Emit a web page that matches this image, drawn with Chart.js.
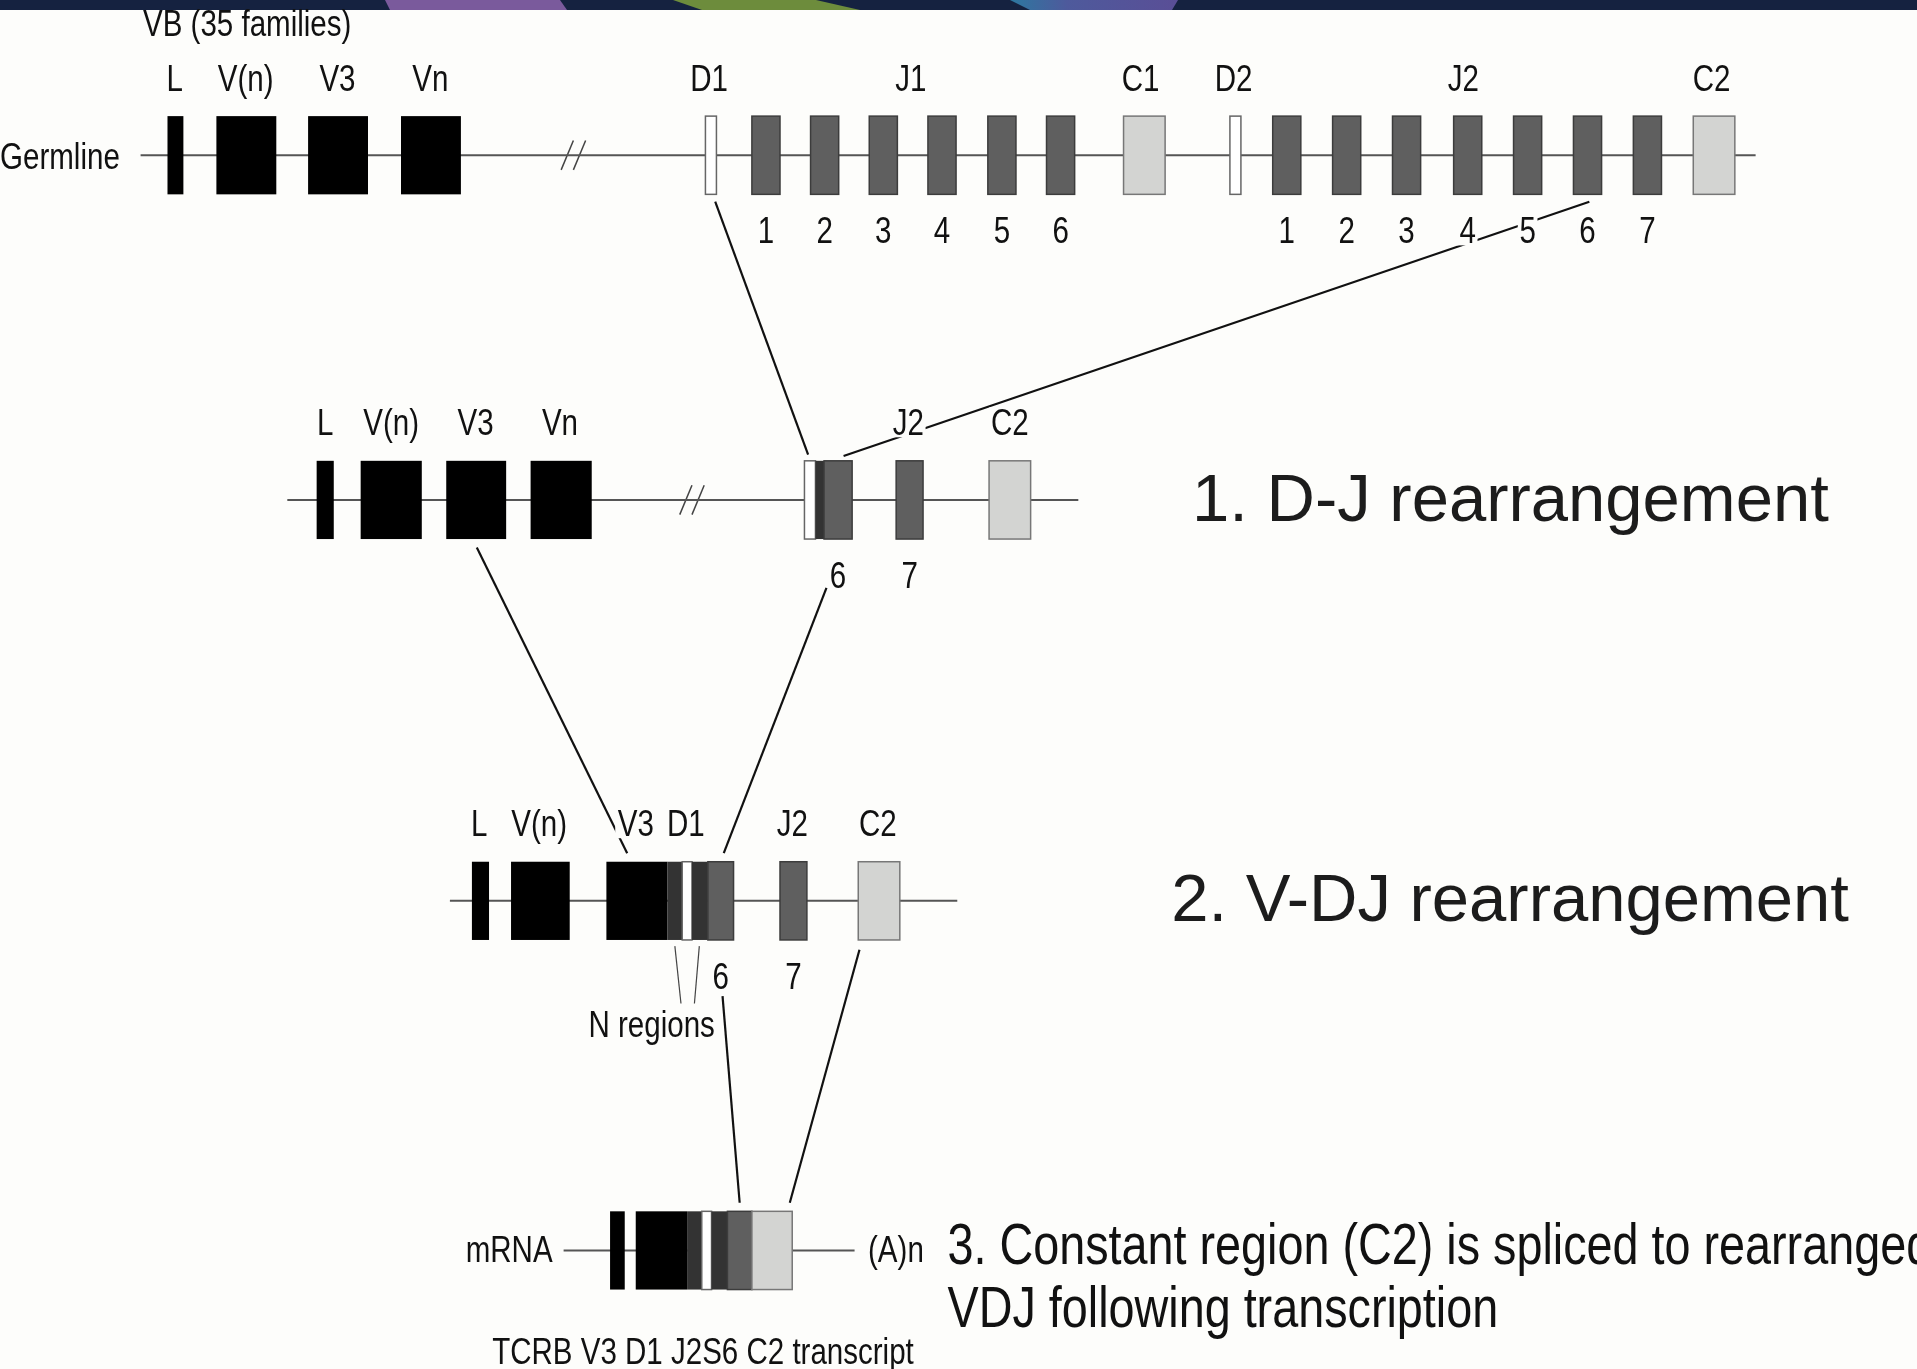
<!DOCTYPE html>
<html>
<head>
<meta charset="utf-8">
<script src="https://cdn.jsdelivr.net/npm/chart.js@4.4.1/dist/chart.umd.min.js"></script>
<style>
  html, body { margin: 0; padding: 0; background: #fdfdfb; }
  #wrap { width: 1917px; height: 1369px; position: relative; }
</style>
</head>
<body>
<div id="wrap"><canvas id="diagram"></canvas></div>
<script>
// ROWS (diagram units, y grows downwards)
const rowY = [127, 409, 737, 1023];
const rowStart = [115, 235, 368, 461];
const rowEnd = [1436, 882, 783, 699];
const rowBreakX = [469, 566, null, null];

// SEGMENTS: [start, end, kind]   V = variable/leader, N = N region, D, J, C
const germlineSegs = [
  [137, 150, "V"], [177, 226, "V"], [252, 301, "V"], [328, 377, "V"],
  [577, 586, "D"],
  [615, 638, "J"], [663, 686, "J"], [711, 734, "J"], [759, 782, "J"], [808, 831, "J"], [856, 879, "J"],
  [919, 953, "C"],
  [1006, 1015, "D"],
  [1041, 1064, "J"], [1090, 1113, "J"], [1139, 1162, "J"], [1189, 1212, "J"],
  [1238, 1261, "J"], [1287, 1310, "J"], [1336, 1359, "J"],
  [1385, 1419, "C"]
];
const djSegs = [
  [259, 273, "V"], [295, 345, "V"], [365, 414, "V"], [434, 484, "V"],
  [658, 667, "D"], [667, 674, "N"], [674, 697, "J"],
  [733, 755, "J"], [809, 843, "C"]
];
const vdjSegs = [
  [386, 400, "V"], [418, 466, "V"],
  [496, 546, "V"], [546, 558, "N"], [558, 566, "D"], [566, 579, "N"], [579, 600, "J"],
  [638, 660, "J"], [702, 736, "C"]
];
const mrnaSegs = [
  [499, 511, "V"], [520, 562, "V"], [562, 574, "N"], [574, 582, "D"],
  [582, 595, "N"], [595, 615, "J"], [615, 648, "C"]
];

// GENE NAMES above each row: [text, x]
const germlineNames = [["L", 143], ["V(n)", 201], ["V3", 276], ["Vn", 352], ["D1", 580],
  ["J1", 745], ["C1", 933], ["D2", 1009], ["J2", 1197], ["C2", 1400]];
const djNames = [["L", 266], ["V(n)", 320], ["V3", 389], ["Vn", 458], ["J2", 743], ["C2", 826]];
const vdjNames = [["L", 392], ["V(n)", 441], ["V3", 520], ["D1", 561], ["J2", 648], ["C2", 718]];
const mrnaNames = [];

// J segment numbers (in order of the J boxes of each row)
const germlineJNumbers = ["1", "2", "3", "4", "5", "6", "1", "2", "3", "4", "5", "6", "7"];
const djJNumbers = ["6", "7"];
const vdjJNumbers = ["6", "7"];
const mrnaJNumbers = [];

// REARRANGEMENT LINKS: [x1, y1, x2, y2]
const links = [
  [585, 165, 661, 372],
  [1300, 165, 690, 373],
  [390, 448, 513, 698],
  [676, 481, 592, 698],
  [591, 815, 605, 984],
  [703, 777, 646, 984]
];
const nRegionPointers = [
  [552, 774, 557, 821],
  [572, 774, 568, 821]
];

// FREE TEXT: [text, x, y, align]
const sideTexts = [
  ["VB (35 families)", 117, 21, "left"],
  ["Germline", 98, 130, "right"],
  ["mRNA", 452, 1024, "right"],
  ["(A)n", 710, 1024, "left"],
  ["N regions", 533, 840, "center"],
  ["TCRB V3 D1 J2S6 C2 transcript", 575, 1108, "center"]
];
const stepTitles = [
  ["1. D-J rearrangement", 975, 411],
  ["2. V-DJ rearrangement", 958, 738]
];
const stepNotes = [
  ["3. Constant region (C2) is spliced to rearranged", 775, 1021],
  ["VDJ following transcription", 775, 1073]
];

// STYLE
const BG = "#fdfdfb";
const BOX_HALF = 32;
const SANS = "'Liberation Sans', Arial, sans-serif";
const LABEL_FONT = { font: "36px " + SANS, hScale: 0.82 };
const NOTE_FONT = { font: "57px " + SANS, hScale: 0.82 };
const TITLE_FONT = { font: "67px " + SANS, hScale: 1 };
const kindFill = { V: "#000000", N: "#333333", D: "#ffffff", J: "#5f5f5f", C: "#d3d4d2" };
const kindStroke = { V: null, N: null, D: "#666666", J: "#3c3c3c", C: "#777777" };

const segRows = [germlineSegs, djSegs, vdjSegs, mrnaSegs];
const nameRows = [germlineNames, djNames, vdjNames, mrnaNames];
const numberRows = [germlineJNumbers, djJNumbers, vdjJNumbers, mrnaJNumbers];

// DATASETS
function seg(x1, y1, x2, y2) {
  return [{ x: x1, y: y1 }, { x: x2, y: y2 }];
}
const datasets = [];
rowY.forEach((yc, r) => {
  datasets.push({ data: seg(rowStart[r], yc, rowEnd[r], yc), borderColor: "#555555", borderWidth: 2 });
  if (rowBreakX[r] !== null) {
    const bx = rowBreakX[r];
    [-5, 5].forEach(off => {
      datasets.push({ data: seg(bx + off - 5, yc + 12, bx + off + 5, yc - 12), borderColor: "#444444", borderWidth: 1.5 });
    });
  }
});
links.forEach(l => datasets.push({ data: seg(...l), borderColor: "#111111", borderWidth: 2.2 }));
nRegionPointers.forEach(l => datasets.push({ data: seg(...l), borderColor: "#444444", borderWidth: 1.2 }));
datasets.forEach(d => { d.showLine = true; d.pointRadius = 0; d.fill = false; });

// TEXT HELPER (hScale squeezes the face to the narrow look of the original)
function drawText(ctx, text, px, py, align, style, color, mask) {
  ctx.save();
  ctx.font = style.font;
  ctx.textAlign = align;
  ctx.textBaseline = "middle";
  ctx.translate(px, py);
  ctx.scale(style.hScale, 1);
  if (mask) {
    const m = ctx.measureText(text);
    const w = m.actualBoundingBoxLeft + m.actualBoundingBoxRight;
    ctx.fillStyle = BG;
    ctx.fillRect(-m.actualBoundingBoxLeft - 3, -m.actualBoundingBoxAscent - 2,
      w + 6, m.actualBoundingBoxAscent + m.actualBoundingBoxDescent + 4);
  }
  ctx.fillStyle = color;
  ctx.fillText(text, 0, 0);
  ctx.restore();
}

const diagramPlugin = {
  id: "diagram",
  beforeDraw(chart) {
    const { ctx, width } = chart;
    ctx.save();
    ctx.fillStyle = BG;
    ctx.fillRect(0, 0, width, chart.height);
    // slide header strip
    ctx.fillStyle = "#152240";
    ctx.fillRect(0, 0, width, 10);
    ctx.fillStyle = "#7a5a9c";
    ctx.beginPath(); ctx.moveTo(385, 0); ctx.lineTo(560, 0); ctx.lineTo(567, 10); ctx.lineTo(390, 10); ctx.fill();
    ctx.fillStyle = "#6d8c3c";
    ctx.beginPath(); ctx.moveTo(673, 0); ctx.lineTo(816, 0); ctx.lineTo(860, 10); ctx.lineTo(702, 10); ctx.fill();
    const g = ctx.createLinearGradient(1006, 0, 1180, 0);
    g.addColorStop(0, "#2a7aa0"); g.addColorStop(0.35, "#4e5a9c"); g.addColorStop(1, "#5a4e96");
    ctx.fillStyle = g;
    ctx.beginPath(); ctx.moveTo(1010, 0); ctx.lineTo(1178, 0); ctx.lineTo(1172, 10); ctx.lineTo(1030, 10); ctx.fill();
    ctx.restore();
  },
  afterDatasetsDraw(chart) {
    const { ctx, scales: { x, y } } = chart;
    ctx.save();
    // gene segment boxes
    segRows.forEach((segs, r) => {
      const top = y.getPixelForValue(rowY[r] - BOX_HALF);
      const bot = y.getPixelForValue(rowY[r] + BOX_HALF);
      segs.forEach(([s, e, kind]) => {
        const x0 = x.getPixelForValue(s), x1 = x.getPixelForValue(e);
        ctx.fillStyle = kindFill[kind];
        ctx.fillRect(x0, top, x1 - x0, bot - top);
        if (kindStroke[kind]) {
          ctx.strokeStyle = kindStroke[kind];
          ctx.lineWidth = 1.5;
          ctx.strokeRect(x0, top, x1 - x0, bot - top);
        }
      });
    });
    // names above, J numbers below
    nameRows.forEach((names, r) => {
      names.forEach(([t, xv]) => {
        drawText(ctx, t, x.getPixelForValue(xv), y.getPixelForValue(rowY[r] - 61), "center", LABEL_FONT, "#111", true);
      });
      const jBoxes = segRows[r].filter(s => s[2] === "J");
      numberRows[r].forEach((t, i) => {
        const b = jBoxes[i];
        drawText(ctx, t, x.getPixelForValue((b[0] + b[1]) / 2), y.getPixelForValue(rowY[r] + 64), "center", LABEL_FONT, "#111", true);
      });
    });
    sideTexts.forEach(([t, xv, yv, al]) => {
      drawText(ctx, t, x.getPixelForValue(xv), y.getPixelForValue(yv), al, LABEL_FONT, "#111", false);
    });
    stepTitles.forEach(([t, xv, yv]) => {
      drawText(ctx, t, x.getPixelForValue(xv), y.getPixelForValue(yv), "left", TITLE_FONT, "#1c1c1c", false);
    });
    stepNotes.forEach(([t, xv, yv]) => {
      drawText(ctx, t, x.getPixelForValue(xv), y.getPixelForValue(yv), "left", NOTE_FONT, "#111", false);
    });
    ctx.restore();
  }
};

new Chart(document.getElementById("diagram"), {
  type: "scatter",
  data: { datasets },
  options: {
    responsive: true,
    maintainAspectRatio: false,
    animation: false,
    layout: { padding: 0 },
    scales: {
      x: { type: "linear", min: 0, max: 1568, display: false },
      y: { type: "linear", min: 0, max: 1120, reverse: true, display: false }
    },
    plugins: { legend: { display: false }, tooltip: { enabled: false } }
  },
  plugins: [diagramPlugin]
});
</script>
</body>
</html>
